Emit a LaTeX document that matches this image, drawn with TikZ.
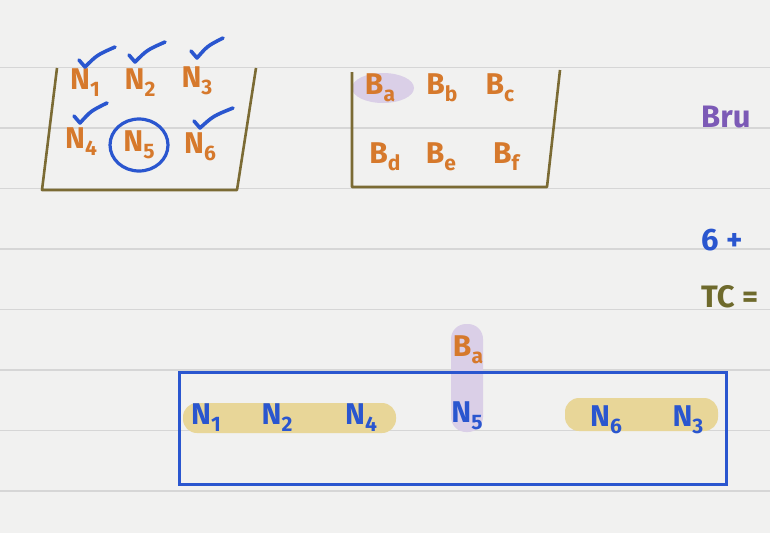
\documentclass[tikz,border=0pt]{standalone}
\usepackage{fontspec}
\setmainfont{Fira Sans}
\definecolor{paper}{HTML}{F1F1F0}
\definecolor{rule}{HTML}{D6D6D6}
\definecolor{ink}{HTML}{D6792C}
\definecolor{pen}{HTML}{2A56CF}
\definecolor{bucket}{HTML}{7B6B34}
\definecolor{lilac}{HTML}{DACFE7}
\definecolor{hilite}{HTML}{E8D698}
\definecolor{grape}{HTML}{7C5AB6}
\definecolor{olive}{HTML}{6E6A2C}
\newcommand{\sub}[2]{#1\raisebox{-0.45ex}{\fontsize{21}{21}\selectfont #2}}
\tikzset{
  lbl/.style={font=\fontsize{30}{30}\selectfont\bfseries, text=ink, inner sep=0pt},
  sel/.style={lbl, text=pen},
  note/.style={font=\fontsize{31}{31}\selectfont\bfseries, inner sep=0pt, anchor=west},
  tick/.style={pen, line width=3.6pt, line cap=round, line join=round},
  wall/.style={bucket, line width=2.6pt, line join=round}
}
\begin{document}
\begin{tikzpicture}[x=1pt,y=-1pt]
  \fill[paper] (0,0) rectangle (770,533);
  \useasboundingbox (0,0) rectangle (770,533);
  \foreach \y in {67.5,128,188.5,249,309.5,370,430.5,491}
    \draw[rule, line width=1.2pt] (0,\y) -- (770,\y);
  % first bucket
  \draw[wall] (57,68) -- (42,190) -- (237,190) -- (256,68);
  \foreach \n/\x/\y in {1/85/83, 2/140/83, 3/197/81, 4/81/142, 5/139/145, 6/200/147}
    \node[lbl] (n\n) at (\x,\y) {\sub{N}{\n}};
  \draw[pen, line width=3.2pt] (n5) ellipse (29 and 26);
  \foreach \x/\y/\w in {85/67/30, 135/62/30, 197/58/26, 80/123/27, 200/128/33}
    \draw[tick] (\x-6,\y-7) -- (\x,\y) .. controls (\x+\w*0.4,\y-12) .. (\x+\w,\y-20);
  % second bucket
  \fill[lilac] (383,88) ellipse (31 and 15);
  \draw[wall] (352,72) -- (352,187) -- (547,187) -- (560,70);
  \foreach \b/\x/\y in {a/380/88, b/442/88, c/500/88, d/385/157, e/441/157, f/506/157}
    \node[lbl] (b\b) at (\x,\y) {\sub{B}{\b}};
  % notes on the right
  \node[note, text=grape] (brute) at (701,117) {Bru};
  \node[note, text=pen] (sum) at (701,240) {6 +};
  \node[note, text=olive] (tc) at (701,297) {TC =};
  % result row
  \fill[hilite, rounded corners=14pt] (183,403) rectangle (396,433);
  \fill[hilite, rounded corners=14pt] (565,398) rectangle (718,431);
  \fill[lilac, rounded corners=15pt] (451,324) rectangle (483,432);
  \draw[pen, line width=3pt] (179,372) rectangle (726,484);
  \node[lbl] (ba) at (468,350) {\sub{B}{a}};
  \foreach \n/\x/\y in {1/206/418, 2/277/418, 4/361/418, 5/467/416, 6/606/420, 3/688/420}
    \node[sel] (r\n) at (\x,\y) {\sub{N}{\n}};
\end{tikzpicture}
\end{document}
